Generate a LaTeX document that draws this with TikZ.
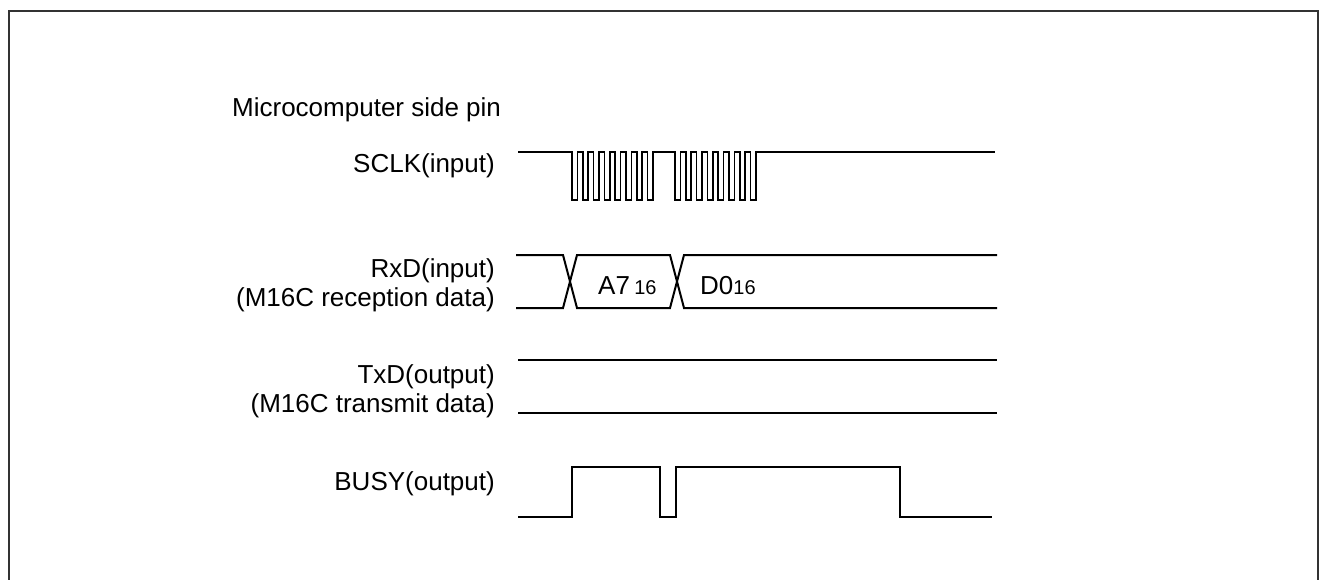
\documentclass[tikz,border=0pt]{standalone}
\usepackage{fontspec}
\setmainfont{Liberation Sans}
\begin{document}
\begin{tikzpicture}[x=1pt,y=-1pt,
        sig/.style={line width=2pt},
        clk/.style={line width=1.6pt},
        pinlabel/.style={anchor=base east,inner sep=0pt,font=\fontsize{26}{30}\selectfont},
        datalabel/.style={anchor=base west,inner sep=0pt,font=\fontsize{26}{30}\selectfont}]
        \useasboundingbox (0,0) rectangle (1320,579);

        %frame
        \begin{scope}
        \clip (0,0) rectangle (1320,579);
        \draw[line width=2pt,black!80] (9,11) rectangle (1318,600);
        \end{scope}

        %pin labels
        \node[anchor=base west,inner sep=0pt,font=\fontsize{26}{30}\selectfont] (title) at (232,116) {Microcomputer side pin};
        \node[pinlabel] (sclk) at (495,172) {SCLK(input)};
        \node[pinlabel] (rxd) at (495,277) {RxD(input)};
        \node[pinlabel] (rxdsub) at (495,306) {(M16C reception data)};
        \node[pinlabel] (txd) at (495,383) {TxD(output)};
        \node[pinlabel] (txdsub) at (495,412) {(M16C transmit data)};
        \node[pinlabel] (busy) at (495,490) {BUSY(output)};

        %SCLK
        \draw[clk] (518,152) coordinate (s0) -- (572,152)
        \foreach \i in {1,...,8} { -- ++(0,48) -- ++(5.4,0) -- ++(0,-48) -- ++(5.4,0) }
        -- (675,152)
        \foreach \i in {1,...,8} { -- ++(0,48) -- ++(5.4,0) -- ++(0,-48) -- ++(5.4,0) }
        -- (995,152) coordinate (s1);

        %RxD
        \draw[sig] (516,255) -- (563,255) -- (577,308) -- (670,308) -- (684,255) -- (997,255);
        \draw[sig] (516,308) -- (563,308) -- (577,255) -- (670,255) -- (684,308) -- (997,308);
        \node[datalabel] (a7) at (598,294) {A7\,{\fontsize{20}{24}\selectfont 16}};
        \node[datalabel] (d0) at (700,294) {D0{\fontsize{20}{24}\selectfont 16}};

        %TxD
        \draw[sig] (518,360) -- (997,360);
        \draw[sig] (518,413) -- (997,413);

        %BUSY
        \draw[sig] (518,517) -- (572,517) -- (572,467) -- (660,467) -- (660,517)
        -- (676,517) -- (676,467) -- (900,467) -- (900,517) -- (992,517);
    \end{tikzpicture}
\end{document}
